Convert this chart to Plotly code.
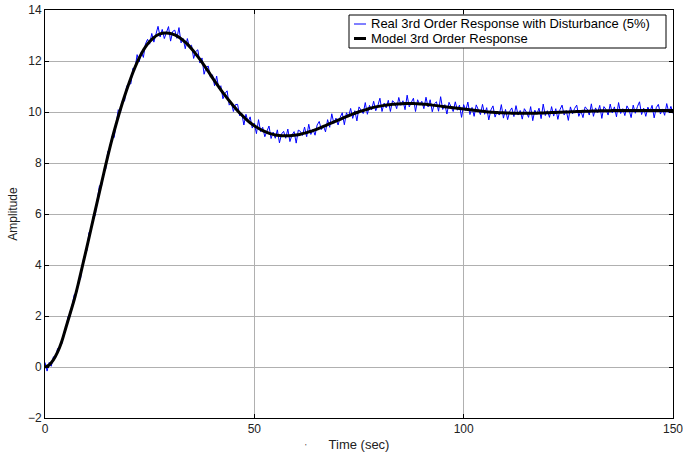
import plotly.graph_objects as go

# Model 3rd order response, sampled every 1 s (0..150 s)
time_model = list(range(0, 151))
model_response = [
    0.00, 0.08, 0.28, 0.58, 1.00, 1.55, 2.10, 2.65, 3.30, 4.00,
    4.70, 5.42, 6.14, 6.86, 7.57, 8.27, 8.93, 9.53, 10.10, 10.62,
    11.10, 11.55, 11.95, 12.28, 12.55, 12.76, 12.92, 13.03, 13.09, 13.10,
    13.08, 13.02, 12.93, 12.81, 12.66, 12.48, 12.28, 12.06, 11.83, 11.59,
    11.34, 11.10, 10.87, 10.65, 10.44, 10.24, 10.05, 9.88, 9.72, 9.58,
    9.46, 9.36, 9.27, 9.20, 9.14, 9.10, 9.08, 9.07, 9.07, 9.08,
    9.10, 9.13, 9.17, 9.22, 9.27, 9.33, 9.40, 9.47, 9.54, 9.61,
    9.68, 9.75, 9.82, 9.89, 9.95, 10.01, 10.06, 10.11, 10.16, 10.20,
    10.23, 10.26, 10.28, 10.30, 10.31, 10.32, 10.33, 10.33, 10.33, 10.32,
    10.31, 10.30, 10.28, 10.26, 10.24, 10.22, 10.20, 10.18, 10.16, 10.14,
    10.12, 10.10, 10.08, 10.06, 10.04, 10.02, 10.00, 9.99, 9.98, 9.97,
    9.96, 9.96, 9.95, 9.95, 9.95, 9.95, 9.95, 9.95, 9.96, 9.96,
    9.97, 9.98, 9.98, 9.99, 10.00, 10.00, 10.01, 10.02, 10.02, 10.03,
    10.03, 10.04, 10.04, 10.05, 10.05, 10.05, 10.06, 10.06, 10.06, 10.06,
    10.06, 10.06, 10.06, 10.06, 10.06, 10.06, 10.06, 10.06, 10.06, 10.06,
    10.06,
]

# Real response with disturbance, sampled every 0.5 s (0..150 s)
time_real = [i * 0.5 for i in range(301)]
real_response = [
    0.18, -0.16, 0.18, 0.03, 0.40, 0.35, 0.72, 0.82, 0.90, 1.36,
    1.50, 1.98, 1.98, 2.44, 2.85, 2.88, 3.34, 3.47, 4.11, 4.41,
    4.56, 5.28, 5.36, 5.91, 5.94, 6.58, 7.11, 7.10, 7.60, 7.76,
    8.46, 8.53, 9.05, 8.99, 9.58, 10.09, 9.97, 10.45, 10.43, 11.01,
    11.12, 11.10, 11.72, 11.70, 12.25, 11.96, 12.36, 12.14, 12.67, 12.85,
    12.66, 13.08, 12.74, 13.03, 13.36, 12.94, 13.24, 12.88, 13.14, 13.35,
    12.78, 13.16, 13.21, 12.89, 13.31, 12.71, 12.88, 12.48, 12.88, 12.54,
    12.62, 12.10, 12.37, 12.44, 11.92, 12.12, 11.48, 11.76, 11.80, 11.37,
    11.46, 11.03, 11.41, 10.92, 11.03, 10.52, 10.73, 10.83, 10.27, 10.37,
    10.02, 10.29, 10.30, 9.85, 9.94, 9.49, 9.91, 9.61, 9.81, 9.37,
    9.56, 9.15, 9.70, 9.23, 9.40, 9.03, 9.24, 9.45, 8.96, 9.21,
    8.97, 9.30, 8.79, 9.14, 9.24, 8.97, 9.33, 8.84, 9.10, 9.23,
    8.78, 9.29, 9.24, 9.08, 9.41, 9.03, 9.52, 9.12, 9.32, 9.09,
    9.49, 9.63, 9.31, 9.46, 9.22, 9.70, 9.40, 9.93, 9.55, 9.76,
    9.49, 9.79, 9.97, 9.50, 9.97, 9.81, 10.14, 9.75, 10.05, 9.65,
    10.20, 10.09, 9.94, 10.37, 9.91, 10.26, 10.08, 10.42, 10.05, 10.25,
    10.54, 10.02, 10.35, 10.16, 10.46, 10.02, 10.44, 10.37, 10.13, 10.57,
    10.26, 10.44, 10.09, 10.66, 10.20, 10.38, 10.54, 10.02, 10.48, 10.28,
    10.42, 10.13, 10.58, 10.20, 10.48, 10.01, 10.32, 10.40, 10.03, 10.60,
    10.10, 10.29, 9.92, 10.38, 10.21, 10.02, 10.40, 10.07, 10.27, 9.79,
    10.29, 10.06, 10.39, 9.90, 10.18, 9.83, 10.28, 10.06, 9.90, 10.30,
    9.91, 10.17, 9.69, 10.08, 10.24, 9.80, 10.03, 9.88, 10.29, 9.76,
    10.10, 9.70, 10.03, 10.16, 9.82, 10.25, 9.88, 10.06, 9.72, 10.13,
    9.99, 9.79, 10.21, 9.66, 10.07, 9.92, 10.15, 9.74, 10.31, 9.86,
    10.05, 9.79, 10.21, 9.84, 10.13, 9.71, 10.09, 10.27, 9.88, 10.06,
    9.67, 10.20, 9.93, 10.14, 10.27, 9.83, 10.04, 9.78, 10.20, 10.12,
    9.88, 10.32, 9.83, 10.16, 9.98, 10.26, 9.75, 10.21, 10.10, 9.88,
    10.31, 9.96, 10.20, 9.81, 10.37, 9.94, 10.13, 9.86, 10.24, 10.09,
    9.78, 10.27, 9.95, 10.21, 10.40, 9.90, 10.15, 9.83, 10.19, 10.02,
    10.26, 9.77, 10.17, 10.30, 9.92, 10.12, 9.87, 10.33, 9.98, 10.22,
    9.94,
]

x_ticks = [0, 50, 100, 150]
y_ticks = [-2, 0, 2, 4, 6, 8, 10, 12, 14]
legend_labels = ["Real 3rd Order Response with Disturbance (5%)", "Model 3rd Order Response"]
legend_colors = ["#0000ff", "#000000"]
legend_widths = [1, 3]

FONT = "Liberation Sans, Arial, sans-serif"
W, H = 683, 454
PLOT_L, PLOT_R, PLOT_T, PLOT_B = 45, 673, 10, 418
PW, PH = PLOT_R - PLOT_L, PLOT_B - PLOT_T
ML, MT = PLOT_L, PLOT_T
MR = W - ML - PW
MB = H - MT - PH


def px_x(px):
    return (px - PLOT_L) / PW


def px_y(py):
    return (PLOT_B - py) / PH


fig = go.Figure()
fig.add_trace(go.Scatter(
    x=time_real, y=real_response, mode="lines",
    name=legend_labels[0], showlegend=False,
    line=dict(color=legend_colors[0], width=legend_widths[0]),
))
fig.add_trace(go.Scatter(
    x=time_model, y=model_response, mode="lines",
    name=legend_labels[1], showlegend=False,
    line=dict(color=legend_colors[1], width=legend_widths[1], shape="spline"),
))

axis_common = dict(
    showline=True, linecolor="black", linewidth=1, mirror="ticks",
    ticks="inside", ticklen=4, tickcolor="black",
    showgrid=True, gridcolor="#b0b0b0", gridwidth=1,
    zeroline=False, automargin=False, ticklabeloverflow="allow",
    tickfont=dict(family=FONT, size=12, color="#222222"),
)

fig.update_xaxes(
    range=[0, 150], tickvals=x_ticks,
    title=dict(text="Time (sec)", font=dict(family=FONT, size=13, color="#222222"), standoff=4),
    **axis_common,
)
fig.update_yaxes(
    range=[-2, 14], tickvals=y_ticks,
    title=dict(text="Amplitude", font=dict(family=FONT, size=12, color="#222222"), standoff=7),
    **axis_common,
)

fig.update_layout(
    width=W, height=H,
    margin=dict(l=ML, r=MR, t=MT, b=MB),
    paper_bgcolor="white", plot_bgcolor="white",
    font=dict(family=FONT, size=12, color="#222222"),
    showlegend=False,
)

# Legend box drawn in the upper right corner
fig.add_shape(
    type="rect", xref="paper", yref="paper",
    x0=px_x(349), x1=px_x(666), y0=px_y(48), y1=px_y(15),
    line=dict(color="black", width=1), fillcolor="white", layer="above",
)
for k, (lab, col, wid) in enumerate(zip(legend_labels, legend_colors, legend_widths)):
    row_y = 24 + 14.5 * k
    fig.add_shape(
        type="line", xref="paper", yref="paper",
        x0=px_x(354), x1=px_x(366), y0=px_y(row_y), y1=px_y(row_y),
        line=dict(color=col, width=wid), layer="above",
    )
    fig.add_annotation(
        x=px_x(369), y=px_y(row_y), xref="paper", yref="paper",
        text=lab, showarrow=False, xanchor="left", yanchor="middle",
        font=dict(family=FONT, size=13, color="black"),
    )

fig.add_annotation(
    x=px_x(306), y=px_y(446), xref="paper", yref="paper",
    text="'", showarrow=False, yanchor="middle",
    font=dict(family=FONT, size=8, color="#222222"),
)

fig.write_html(
    "out.html",
    config={"displayModeBar": False},
    post_script="document.body.style.margin='0';document.body.style.padding='0';",
)
